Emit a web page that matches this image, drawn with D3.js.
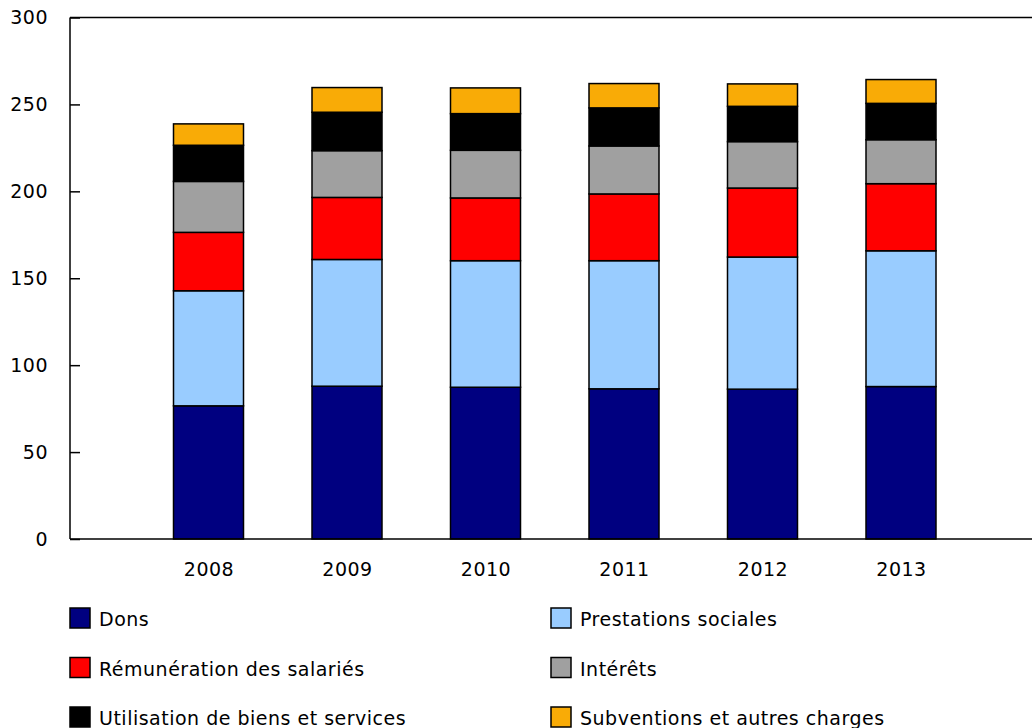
<!DOCTYPE html>
<html>
<head>
<meta charset="utf-8">
<script src="https://cdn.jsdelivr.net/npm/d3@7/dist/d3.min.js"></script>
<style>
  html, body { margin: 0; padding: 0; background: #fff; }
  svg { display: block; font-family: "DejaVu Sans", Verdana, sans-serif; }
</style>
</head>
<body>
<svg id="chart" width="1032" height="728"></svg>
<script>
const years = ["2008", "2009", "2010", "2011", "2012", "2013"];
const seriesNames = ["Dons", "Prestations sociales", "Rémunération des salariés", "Intérêts", "Utilisation de biens et services", "Subventions et autres charges"];
const seriesColors = ["#000080", "#99ccff", "#ff0000", "#a0a0a0", "#000000", "#f9ab06"];
const dons = [76.6, 87.9, 87.3, 86.4, 86.2, 87.7];
const prestations = [66.2, 72.9, 72.8, 73.7, 76.0, 78.1];
const remuneration = [33.6, 35.7, 36.1, 38.4, 39.7, 38.6];
const interets = [29.3, 26.9, 27.4, 27.6, 26.7, 25.3];
const utilisation = [20.8, 22.1, 21.1, 21.9, 20.3, 20.9];
const subventions = [12.3, 14.2, 14.8, 14.0, 12.9, 13.7];
const yTicks = [0, 50, 100, 150, 200, 250, 300];

const seriesValues = [dons, prestations, remuneration, interets, utilisation, subventions];
const keys = seriesNames;
const table = years.map((yr, i) => {
  const row = { year: yr };
  keys.forEach((k, j) => row[k] = seriesValues[j][i]);
  return row;
});

const svg = d3.select("#chart");
const mLeft = 70, mRight = 1039.5, mTop = 17.5, mBottom = 539;

const x = d3.scalePoint().domain(years).range([mLeft, mRight]).padding(1);
const y = d3.scaleLinear().domain([0, 300]).range([mBottom, mTop]);
const barW = 70;

const stacked = d3.stack().keys(keys)(table);

const g = svg.append("g");
g.selectAll("g.series").data(stacked).join("g")
  .attr("class", "series")
  .attr("fill", (d, i) => seriesColors[i])
  .selectAll("rect").data(d => d).join("rect")
  .attr("x", d => x(d.data.year) - barW / 2)
  .attr("width", barW)
  .attr("y", d => y(d[1]))
  .attr("height", d => y(d[0]) - y(d[1]))
  .attr("stroke", "#000")
  .attr("stroke-width", 1.5);

// frame lines
svg.append("line").attr("x1", mLeft).attr("x2", 1032).attr("y1", y(300)).attr("y2", y(300))
  .attr("stroke", "#000").attr("stroke-width", 1.5);
svg.append("line").attr("x1", mLeft).attr("x2", 1032).attr("y1", y(0)).attr("y2", y(0))
  .attr("stroke", "#000").attr("stroke-width", 1.5);

// y axis
const yAxis = d3.axisRight(y).tickValues(yTicks).tickSize(10).tickFormat(d3.format("d"));
const ya = svg.append("g").attr("transform", `translate(${mLeft},0)`).call(yAxis);
ya.select(".domain").attr("stroke", "#000").attr("stroke-width", 1.5).attr("d", `M0,${mTop}V${mBottom}`);
ya.selectAll(".tick line").attr("stroke", "#000").attr("stroke-width", 1.5);
ya.selectAll(".tick text").attr("x", -22).attr("text-anchor", "end")
  .attr("font-size", 19).attr("letter-spacing", 0.5).attr("font-family", "DejaVu Sans, Verdana, sans-serif").attr("fill", "#000");

// x axis labels
const xAxis = d3.axisBottom(x).tickSize(0).tickPadding(24);
const xa = svg.append("g").attr("transform", `translate(0,${mBottom})`).call(xAxis);
xa.select(".domain").remove();
xa.selectAll(".tick text").attr("font-size", 19).attr("letter-spacing", 0.5).attr("font-family", "DejaVu Sans, Verdana, sans-serif").attr("fill", "#000");

// legend
const legend = svg.append("g");
seriesNames.forEach((name, i) => {
  const col = i % 2, row = Math.floor(i / 2);
  const lx = col === 0 ? 70 : 551;
  const ly = 608 + row * 49.5;
  legend.append("rect").attr("x", lx).attr("y", ly).attr("width", 20).attr("height", 20)
    .attr("fill", seriesColors[i]).attr("stroke", "#000").attr("stroke-width", 1.5);
  legend.append("text").attr("x", lx + 29).attr("y", ly + 18)
    .attr("font-size", 19).attr("letter-spacing", 0.5).attr("fill", "#000").text(name);
});
</script>
</body>
</html>
